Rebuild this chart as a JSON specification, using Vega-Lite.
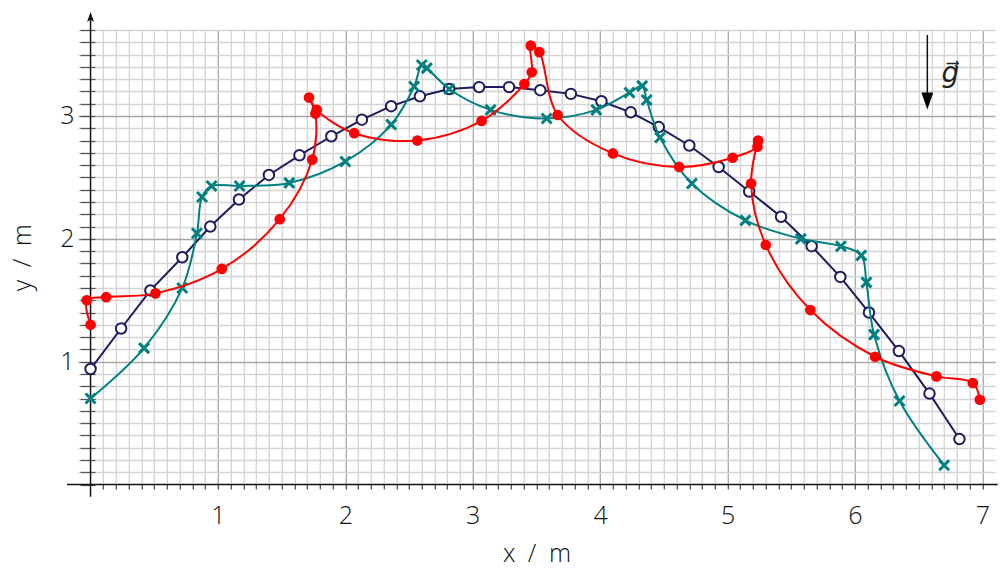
{
  "$schema": "https://vega.github.io/schema/vega-lite/v6.json",
  "width": 917.3,
  "height": 454.5,
  "autosize": "none",
  "padding": {"left": 77.8, "top": 30, "right": 12.9, "bottom": 85.5},
  "background": "white",
  "config": {"view": {"stroke": null}, "font": "Open Sans"},
  "datasets": {
    "navy": [
      {"i": 0, "x": 0.0, "y": 0.94}, {"i": 1, "x": 0.24, "y": 1.27}, {"i": 2, "x": 0.47, "y": 1.58},
      {"i": 3, "x": 0.72, "y": 1.85}, {"i": 4, "x": 0.94, "y": 2.1}, {"i": 5, "x": 1.165, "y": 2.32},
      {"i": 6, "x": 1.4, "y": 2.52}, {"i": 7, "x": 1.64, "y": 2.68}, {"i": 8, "x": 1.89, "y": 2.835},
      {"i": 9, "x": 2.13, "y": 2.97}, {"i": 10, "x": 2.36, "y": 3.08}, {"i": 11, "x": 2.585, "y": 3.16},
      {"i": 12, "x": 2.815, "y": 3.22}, {"i": 13, "x": 3.05, "y": 3.235}, {"i": 14, "x": 3.285, "y": 3.235},
      {"i": 15, "x": 3.53, "y": 3.21}, {"i": 16, "x": 3.77, "y": 3.18}, {"i": 17, "x": 4.01, "y": 3.12},
      {"i": 18, "x": 4.24, "y": 3.03}, {"i": 19, "x": 4.46, "y": 2.91}, {"i": 20, "x": 4.7, "y": 2.76},
      {"i": 21, "x": 4.93, "y": 2.585}, {"i": 22, "x": 5.17, "y": 2.385}, {"i": 23, "x": 5.42, "y": 2.18},
      {"i": 24, "x": 5.66, "y": 1.94}, {"i": 25, "x": 5.885, "y": 1.69}, {"i": 26, "x": 6.11, "y": 1.4},
      {"i": 27, "x": 6.345, "y": 1.086}, {"i": 28, "x": 6.585, "y": 0.74}, {"i": 29, "x": 6.82, "y": 0.37}
    ],
    "teal": [
      {"i": 0, "x": 0.0, "y": 0.7}, {"i": 1, "x": 0.42, "y": 1.11}, {"i": 2, "x": 0.72, "y": 1.6},
      {"i": 3, "x": 0.835, "y": 2.045}, {"i": 4, "x": 0.875, "y": 2.34}, {"i": 5, "x": 0.95, "y": 2.43},
      {"i": 6, "x": 1.17, "y": 2.43}, {"i": 7, "x": 1.56, "y": 2.455}, {"i": 8, "x": 2.0, "y": 2.63},
      {"i": 9, "x": 2.36, "y": 2.93}, {"i": 10, "x": 2.54, "y": 3.24}, {"i": 11, "x": 2.6, "y": 3.415},
      {"i": 12, "x": 2.64, "y": 3.39}, {"i": 13, "x": 2.815, "y": 3.22}, {"i": 14, "x": 3.14, "y": 3.05},
      {"i": 15, "x": 3.58, "y": 2.98}, {"i": 16, "x": 3.97, "y": 3.05}, {"i": 17, "x": 4.23, "y": 3.19},
      {"i": 18, "x": 4.33, "y": 3.245}, {"i": 19, "x": 4.365, "y": 3.13}, {"i": 20, "x": 4.47, "y": 2.825},
      {"i": 21, "x": 4.72, "y": 2.45}, {"i": 22, "x": 5.14, "y": 2.15}, {"i": 23, "x": 5.575, "y": 2.0},
      {"i": 24, "x": 5.89, "y": 1.94}, {"i": 25, "x": 6.05, "y": 1.865}, {"i": 26, "x": 6.09, "y": 1.645},
      {"i": 27, "x": 6.15, "y": 1.22}, {"i": 28, "x": 6.35, "y": 0.68}, {"i": 29, "x": 6.7, "y": 0.157}
    ],
    "red": [
      {"i": 0, "x": 0.0, "y": 1.3}, {"i": 1, "x": -0.03, "y": 1.5}, {"i": 2, "x": 0.123, "y": 1.525},
      {"i": 3, "x": 0.51, "y": 1.556}, {"i": 4, "x": 1.03, "y": 1.755}, {"i": 5, "x": 1.485, "y": 2.16},
      {"i": 6, "x": 1.74, "y": 2.645}, {"i": 7, "x": 1.765, "y": 3.02}, {"i": 8, "x": 1.715, "y": 3.15},
      {"i": 9, "x": 1.775, "y": 3.05}, {"i": 10, "x": 2.07, "y": 2.86}, {"i": 11, "x": 2.565, "y": 2.8},
      {"i": 12, "x": 3.07, "y": 2.96}, {"i": 13, "x": 3.405, "y": 3.26}, {"i": 14, "x": 3.463, "y": 3.356},
      {"i": 15, "x": 3.455, "y": 3.573}, {"i": 16, "x": 3.523, "y": 3.52}, {"i": 17, "x": 3.667, "y": 3.008},
      {"i": 18, "x": 4.1, "y": 2.695}, {"i": 19, "x": 4.62, "y": 2.585}, {"i": 20, "x": 5.04, "y": 2.66},
      {"i": 21, "x": 5.235, "y": 2.75}, {"i": 22, "x": 5.24, "y": 2.8}, {"i": 23, "x": 5.185, "y": 2.45},
      {"i": 24, "x": 5.3, "y": 1.95}, {"i": 25, "x": 5.65, "y": 1.42}, {"i": 26, "x": 6.158, "y": 1.04},
      {"i": 27, "x": 6.64, "y": 0.88}, {"i": 28, "x": 6.925, "y": 0.826}, {"i": 29, "x": 6.98, "y": 0.69}
    ],
    "axislines": [
      {"x": -0.185, "y": 0, "x2": 7.12, "y2": 0},
      {"x": 0, "y": -0.1, "x2": 0, "y2": 3.8},
      {"x": 6.568, "y": 3.66, "x2": 6.568, "y2": 3.15}
    ],
    "uparrow": [{"x": 0, "y": 3.806}],
    "gdown": [{"x": 6.568, "y": 3.122}],
    "glabel": [{"x": 6.68, "y": 3.34, "t": "g\u20d7"}]
  },
  "encoding": {
    "x": {
      "field": "x", "type": "quantitative",
      "scale": {"domain": [-0.1, 7.1], "nice": false, "zero": false},
      "axis": {
        "orient": "bottom", "domain": false, "tickCount": 72,
        "grid": true,
        "gridColor": {"condition": {"test": "abs(datum.value - round(datum.value)) < 1e-6", "value": "#a8a8a8"}, "value": "#d4d4d4"},
        "gridOpacity": {"condition": {"test": "datum.value < 0.05 || datum.value > 7.05", "value": 0}, "value": 1},
        "gridWidth": 1.3,
        "ticks": true, "tickSize": 4.5, "tickColor": "#444", "tickWidth": 1.2,
        "tickOpacity": {"condition": {"test": "datum.value < 0.05 || datum.value > 7.05", "value": 0}, "value": 1},
        "labelExpr": "datum.value > 0.5 && abs(datum.value - round(datum.value)) < 1e-6 ? format(datum.value, 'd') : ''",
        "labelOverlap": false, "labelFlush": false, "labelBound": false,
        "labelFont": "Open Sans", "labelFontSize": 25, "labelFontWeight": 300, "labelColor": "#111", "labelPadding": 14,
        "title": "x\u2002/\u2002m", "titleFont": "Open Sans", "titleFontSize": 25, "titleFontWeight": 300,
        "titleColor": "#111", "titlePadding": 13
      }
    },
    "y": {
      "field": "y", "type": "quantitative",
      "scale": {"domain": [0, 3.7], "nice": false, "zero": false},
      "axis": {
        "orient": "left", "domain": false, "tickCount": 37, "offset": -17.2,
        "grid": true,
        "gridColor": {"condition": {"test": "abs(datum.value - round(datum.value)) < 1e-6", "value": "#a8a8a8"}, "value": "#d4d4d4"},
        "gridOpacity": {"condition": {"test": "datum.value < 0.05", "value": 0}, "value": 1},
        "gridWidth": 1.3,
        "ticks": true, "tickSize": 15, "tickColor": "#555", "tickWidth": 1.2,
        "labelExpr": "datum.value > 0.5 && abs(datum.value - round(datum.value)) < 1e-6 ? format(datum.value, 'd') : ''",
        "labelOverlap": false, "labelFlush": false, "labelBound": false,
        "labelFont": "Open Sans", "labelFontSize": 25, "labelFontWeight": 300, "labelColor": "#111", "labelPadding": 6,
        "title": "y\u2002/\u2002m", "titleFont": "Open Sans", "titleFontSize": 25, "titleFontWeight": 300,
        "titleColor": "#111", "titlePadding": 24
      }
    }
  },
  "layer": [
    {
      "data": {"name": "axislines"},
      "mark": {"type": "rule", "color": "#111", "strokeWidth": 1.5},
      "encoding": {"x2": {"field": "x2"}, "y2": {"field": "y2"}}
    },
    {
      "data": {"name": "uparrow"},
      "mark": {"type": "point", "shape": "M0,-1L0.7,1L0,0.5L-0.7,1Z", "size": 100, "filled": true, "color": "#111", "opacity": 1}
    },
    {
      "data": {"name": "gdown"},
      "mark": {"type": "point", "shape": "M-0.7,-1L0.7,-1L0,1Z", "size": 289, "filled": true, "color": "#000", "opacity": 1}
    },
    {
      "data": {"name": "glabel"},
      "mark": {"type": "text", "align": "left", "baseline": "middle", "font": "DejaVu Sans", "fontSize": 28, "fontStyle": "italic", "color": "#222"},
      "encoding": {"text": {"field": "t"}}
    },
    {
      "data": {"name": "navy"},
      "mark": {"type": "line", "color": "#1c1c5e", "strokeWidth": 2, "interpolate": "linear"},
      "encoding": {"order": {"field": "i"}}
    },
    {
      "data": {"name": "navy"},
      "mark": {"type": "point", "shape": "circle", "size": 110, "filled": false, "fill": "white", "fillOpacity": 1, "color": "#1c1c5e", "strokeWidth": 2, "opacity": 1}
    },
    {
      "data": {"name": "teal"},
      "mark": {"type": "line", "color": "#008080", "strokeWidth": 2, "interpolate": "catmull-rom"},
      "encoding": {"order": {"field": "i"}}
    },
    {
      "data": {"name": "teal"},
      "mark": {"type": "point", "shape": "M-1,-1L1,1M-1,1L1,-1", "size": 100, "filled": false, "color": "#008080", "strokeWidth": 3, "opacity": 1}
    },
    {
      "data": {"name": "red"},
      "mark": {"type": "line", "color": "#ff0000", "strokeWidth": 2, "interpolate": "catmull-rom"},
      "encoding": {"order": {"field": "i"}}
    },
    {
      "data": {"name": "red"},
      "mark": {"type": "point", "shape": "circle", "size": 115, "filled": true, "color": "#ff0000", "opacity": 1}
    }
  ]
}
